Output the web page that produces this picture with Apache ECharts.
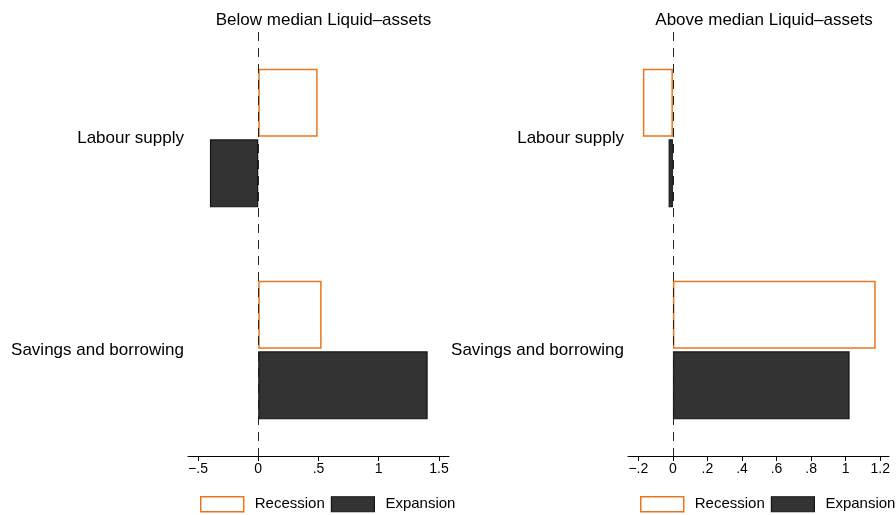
<!DOCTYPE html>
<html>
<head>
<meta charset="utf-8">
<script src="https://cdn.jsdelivr.net/npm/echarts@6/dist/echarts.min.js"></script>
<style>
  html, body { margin: 0; padding: 0; background: #fff; }
  #chart { width: 896px; height: 515px; }
</style>
</head>
<body>
<div id="chart"></div>
<script>
// Channels of adjustment, split by liquid-asset holdings
const categories = ['Labour supply', 'Savings and borrowing'];
const panelTitles = ['Below median Liquid\u2013assets', 'Above median Liquid\u2013assets'];

// Below median liquid assets
const belowRecession = [0.493, 0.526];
const belowExpansion = [-0.401, 1.406];

// Above median liquid assets
const aboveRecession = [-0.174, 1.174];
const aboveExpansion = [-0.025, 1.023];

// Tick values for each panel's x axis
const belowTicks = [-0.5, 0, 0.5, 1, 1.5];
const aboveTicks = [-0.2, 0, 0.2, 0.4, 0.6, 0.8, 1, 1.2];

const FONT = '"Liberation Sans", Arial, Helvetica, sans-serif';
const ORANGE = '#e8761e';
const DARK = '#333333';

// Stata-style numbers: no leading zero, true minus sign
function fmt(v) {
  const r = Math.round(v * 10) / 10;
  let s = String(Math.abs(r));
  if (s.startsWith('0.')) s = s.slice(1);
  return (r < 0 ? '\u2212' : '') + s;
}

function xAxisFor(gridIndex, min, max, ticks) {
  return {
    type: 'value', gridIndex, min, max,
    axisLine: { show: true, lineStyle: { color: '#000', width: 1 } },
    axisTick: { show: true, length: 5, customValues: ticks, lineStyle: { color: '#000' } },
    axisLabel: { customValues: ticks, formatter: fmt, color: '#000', fontSize: 14, fontFamily: FONT, margin: 6 },
    splitLine: { show: false }
  };
}

function yAxisFor(gridIndex) {
  return {
    type: 'category', gridIndex, data: categories, inverse: true,
    axisLine: { show: false }, axisTick: { show: false },
    axisLabel: { color: '#000', fontSize: 17, fontFamily: FONT, margin: 4 }
  };
}

const zeroLine = {
  silent: true, symbol: 'none',
  label: { show: false },
  lineStyle: { color: '#222', width: 1, type: [9, 7] },
  data: [{ xAxis: 0 }]
};

function barPair(axisIdx, rec, exp) {
  return [
    {
      name: 'Recession', type: 'bar', xAxisIndex: axisIdx, yAxisIndex: axisIdx,
      data: rec, barWidth: 68, barGap: '4%',
      itemStyle: { color: '#ffffff', borderColor: ORANGE, borderWidth: 1.5 },
      markLine: zeroLine, z: 2
    },
    {
      name: 'Expansion', type: 'bar', xAxisIndex: axisIdx, yAxisIndex: axisIdx,
      data: exp, barWidth: 68, barGap: '4%',
      itemStyle: { color: DARK, borderColor: '#151515', borderWidth: 1.2 }, z: 2
    }
  ];
}

function legendAt(left) {
  return {
    left, top: 496, width: 256, orient: 'horizontal', padding: 0,
    itemWidth: 43, itemHeight: 15, itemGap: 6,
    selectedMode: false,
    textStyle: { color: '#000', fontSize: 15, fontFamily: FONT, padding: [0, 0, 0, 6] },
    data: [
      { name: 'Recession', icon: 'rect', itemStyle: { color: '#fff', borderColor: ORANGE, borderWidth: 1.5 } },
      { name: 'Expansion', icon: 'rect', itemStyle: { color: DARK, borderColor: '#151515', borderWidth: 1.2 } }
    ]
  };
}

const chart = echarts.init(document.getElementById('chart'), null, { renderer: 'canvas' });
chart.setOption({
  backgroundColor: '#fff',
  animation: false,
  title: [
    { text: panelTitles[0], left: 318.5, top: 7, textAlign: 'center',
      textStyle: { fontSize: 17, fontWeight: 'normal', color: '#000', fontFamily: FONT } },
    { text: panelTitles[1], left: 759, top: 7, textAlign: 'center',
      textStyle: { fontSize: 17, fontWeight: 'normal', color: '#000', fontFamily: FONT } }
  ],
  grid: [
    { left: 188, width: 261, top: 32, height: 424, containLabel: false },
    { left: 628, width: 261, top: 32, height: 424, containLabel: false }
  ],
  xAxis: [
    xAxisFor(0, -0.583, 1.583, belowTicks),
    xAxisFor(1, -0.26, 1.251, aboveTicks)
  ],
  yAxis: [yAxisFor(0), yAxisFor(1)],
  legend: [legendAt(200), legendAt(640)],
  series: [
    ...barPair(0, belowRecession, belowExpansion),
    ...barPair(1, aboveRecession, aboveExpansion)
  ]
});
</script>
</body>
</html>
